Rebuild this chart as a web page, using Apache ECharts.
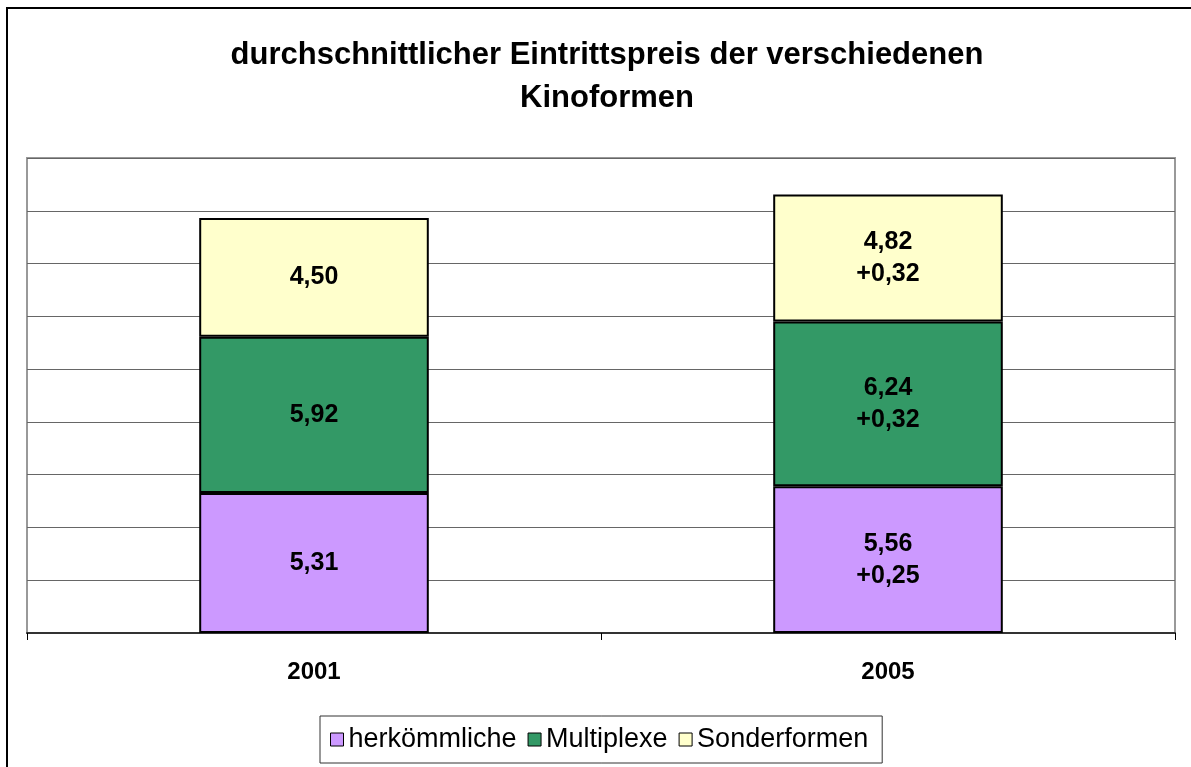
<!DOCTYPE html>
<html>
<head>
<meta charset="utf-8">
<script src="https://cdn.jsdelivr.net/npm/echarts@6/dist/echarts.min.js"></script>
<style>
    html, body { margin: 0; padding: 0; background: #fff; }
    #chart { width: 1191px; height: 767px; }
</style>
</head>
<body>
<div id="chart"></div>
<script>
var years = ['2001', '2005'];
var seriesNames = ['herkömmliche', 'Multiplexe', 'Sonderformen'];
var herkoemmliche = [5.31, 5.56];
var multiplexe = [5.92, 6.24];
var sonderformen = [4.50, 4.82];
var colors = ['#CC99FF', '#339966', '#FFFFCC'];

var fmt = function(v) {
    return v.toFixed(2).replace('.', ',');
};

// Wert und (ab 2005) Differenz zum Vorjahr
var makeLabel = function(values) {
    return function(p) {
        var s = fmt(values[p.dataIndex]);
        if (p.dataIndex > 0) {
            var d = values[p.dataIndex] - values[p.dataIndex - 1];
            s += '\n' + (d >= 0 ? '+' : '') + fmt(d);
        }
        return s;
    };
};

var chart = echarts.init(document.getElementById('chart'));
var font = '"Liberation Sans", Arial, sans-serif';

var makeSeries = function(name, values, color) {
    return {
        name: name,
        type: 'bar',
        stack: 'preis',
        barWidth: '40%',
        data: values,
        itemStyle: {
            color: color,
            borderColor: '#000',
            borderWidth: 2
        },
        label: {
            show: true,
            position: 'inside',
            formatter: makeLabel(values),
            color: '#000',
            fontFamily: font,
            fontWeight: 'bold',
            fontSize: 25,
            lineHeight: 32
        }
    };
};

chart.setOption({
    animation: false,
    title: {
        text: 'durchschnittlicher Eintrittspreis der verschiedenen\nKinoformen',
        left: 602,
        textAlign: 'center',
        top: 29,
        textStyle: {
            fontFamily: font,
            fontWeight: 'bold',
            fontSize: 31,
            lineHeight: 43,
            color: '#000'
        }
    },
    graphic: [{
        type: 'rect',
        shape: { x: 7, y: 8, width: 1300, height: 1000 },
        style: { fill: 'none', stroke: '#000', lineWidth: 2 },
        silent: true
    }],
    legend: {
        data: seriesNames,
        left: 320,
        top: 716,
        padding: [10, 14, 10, 10],
        itemGap: 11,
        itemWidth: 13,
        itemHeight: 13,
        icon: 'rect',
        borderColor: '#333',
        borderWidth: 1,
        textStyle: {
            fontFamily: font,
            fontSize: 27,
            color: '#000',
            padding: [0, 0, 0, 0]
        },
        itemStyle: {
            borderColor: '#000',
            borderWidth: 1
        }
    },
    grid: {
        left: 27,
        right: 16,
        top: 158,
        bottom: 134,
        show: true,
        borderColor: '#999',
        borderWidth: 2,
        backgroundColor: '#fff'
    },
    xAxis: {
        type: 'category',
        data: years,
        axisLine: { lineStyle: { color: '#333', width: 2 } },
        axisTick: { show: true, length: 7, lineStyle: { color: '#000', width: 1 } },
        axisLabel: {
            margin: 27,
            fontFamily: font,
            fontWeight: 'bold',
            fontSize: 24,
            color: '#000'
        }
    },
    yAxis: {
        type: 'value',
        min: 0,
        max: 18,
        interval: 2,
        axisLine: { show: false },
        axisTick: { show: false },
        axisLabel: { show: false },
        splitLine: { lineStyle: { color: '#666', width: 1 } }
    },
    series: [
        makeSeries(seriesNames[0], herkoemmliche, colors[0]),
        makeSeries(seriesNames[1], multiplexe, colors[1]),
        makeSeries(seriesNames[2], sonderformen, colors[2])
    ]
});
</script>
</body>
</html>
